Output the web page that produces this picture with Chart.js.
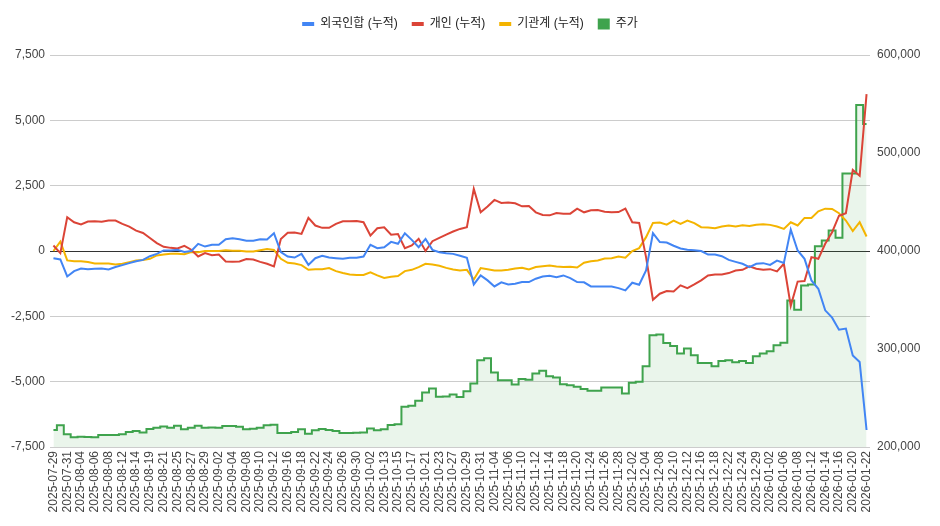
<!DOCTYPE html>
<html lang="ko">
<head>
<meta charset="utf-8">
<title>수급 누적 vs 주가</title>
<script src="https://cdn.jsdelivr.net/npm/chart.js@4"></script>
<style>
    html, body { margin: 0; padding: 0; background: #fff; }
    #wrap { width: 940px; height: 526px; }
</style>
</head>
<body>
<div id="wrap"><canvas id="flowChart" width="940" height="526"></canvas></div>
<script>
// --- data (단위: 억원 누적 / 원) ---
const dates = [
    "2025-07-29", "2025-07-30", "2025-07-31",
    "2025-08-01", "2025-08-04", "2025-08-05", "2025-08-06", "2025-08-07", "2025-08-08", "2025-08-11", "2025-08-12", "2025-08-13", "2025-08-14",
    "2025-08-18", "2025-08-19", "2025-08-20", "2025-08-21", "2025-08-22", "2025-08-25", "2025-08-26", "2025-08-27", "2025-08-28", "2025-08-29",
    "2025-09-01", "2025-09-02", "2025-09-03", "2025-09-04", "2025-09-05", "2025-09-08", "2025-09-09", "2025-09-10", "2025-09-11", "2025-09-12",
    "2025-09-15", "2025-09-16", "2025-09-17", "2025-09-18", "2025-09-19", "2025-09-22", "2025-09-23", "2025-09-24", "2025-09-25", "2025-09-26",
    "2025-09-29", "2025-09-30",
    "2025-10-01", "2025-10-02", "2025-10-10", "2025-10-13", "2025-10-14", "2025-10-15", "2025-10-16", "2025-10-17", "2025-10-20", "2025-10-21",
    "2025-10-22", "2025-10-23", "2025-10-24", "2025-10-27", "2025-10-28", "2025-10-29", "2025-10-30", "2025-10-31",
    "2025-11-03", "2025-11-04", "2025-11-05", "2025-11-06", "2025-11-07", "2025-11-10", "2025-11-11", "2025-11-12", "2025-11-13", "2025-11-14",
    "2025-11-17", "2025-11-18", "2025-11-19", "2025-11-20", "2025-11-21", "2025-11-24", "2025-11-25", "2025-11-26", "2025-11-27", "2025-11-28",
    "2025-12-01", "2025-12-02", "2025-12-03", "2025-12-04", "2025-12-05", "2025-12-08", "2025-12-09", "2025-12-10", "2025-12-11", "2025-12-12",
    "2025-12-15", "2025-12-16", "2025-12-17", "2025-12-18", "2025-12-19", "2025-12-22", "2025-12-23", "2025-12-24", "2025-12-26", "2025-12-29",
    "2025-12-30",
    "2026-01-02", "2026-01-05", "2026-01-06", "2026-01-07", "2026-01-08", "2026-01-09", "2026-01-12", "2026-01-13", "2026-01-14", "2026-01-15",
    "2026-01-16", "2026-01-19", "2026-01-20", "2026-01-21", "2026-01-22"
];

const foreignCum = [
    -275, -325, -975, -770, -670, -695, -680, -670, -705, -615,
    -540, -465, -390, -340, -200, -110, 20, 20, 45, -40,
    0, 275, 170, 235, 235, 450, 490, 450, 390, 390,
    450, 440, 680, -45, -210, -250, -110, -530, -275, -185,
    -250, -275, -300, -260, -260, -210, 235, 110, 145, 350,
    275, 680, 425, 145, 465, 45, -45, -85, -110, -185,
    -260, -1280, -935, -1125, -1355, -1200, -1280, -1255, -1190, -1190,
    -1060, -975, -950, -1000, -935, -1035, -1190, -1200, -1355, -1355,
    -1355, -1355, -1420, -1510, -1215, -1290, -745, 680, 340, 325,
    200, 95, 45, 30, 0, -135, -135, -200, -340, -415,
    -490, -615, -490, -465, -530, -365, -460, 820, 20, -300,
    -1125, -1445, -2270, -2550, -3010, -2970, -4000, -4250, -6850
];

const retailCum = [
    210, -80, 1290, 1100, 1020, 1125, 1140, 1120, 1165, 1165,
    1040, 935, 780, 690, 500, 300, 160, 120, 95, 198,
    50, -210, -80, -160, -135, -400, -415, -400, -310, -325,
    -415, -490, -590, 460, 695, 705, 655, 1265, 975, 885,
    885, 1040, 1140, 1140, 1150, 1100, 590, 870, 910, 620,
    650, 110, 210, 465, 0, 375, 500, 630, 745, 845,
    910, 2375, 1480, 1700, 1955, 1840, 1860, 1825, 1710, 1720,
    1480, 1380, 1365, 1455, 1430, 1430, 1620, 1480, 1560, 1570,
    1505, 1480, 1490, 1620, 1100, 1075, -235, -1865, -1635, -1535,
    -1550, -1315, -1420, -1280, -1125, -935, -895, -895, -845, -745,
    -720, -590, -680, -720, -695, -780, -490, -2100, -1170, -1150,
    -235, -300, 275, 720, 1350, 1445, 3100, 2880, 6000
];

const instCum = [
    0, 360, -360, -390, -390, -425, -475, -475, -475, -515,
    -490, -425, -360, -340, -300, -170, -135, -110, -110, -120,
    -40, -50, 0, 0, 0, 30, 10, 10, -20, -20,
    30, 80, 40, -300, -450, -475, -540, -720, -695, -695,
    -655, -770, -845, -895, -920, -920, -820, -935, -1035, -985,
    -960, -770, -720, -615, -490, -515, -565, -645, -705, -745,
    -720, -1090, -655, -695, -745, -750, -720, -670, -645, -705,
    -615, -580, -555, -590, -615, -600, -630, -450, -390, -360,
    -285, -275, -210, -260, 0, 110, 530, 1075, 1090, 1010,
    1165, 1040, 1165, 1065, 910, 895, 870, 935, 975, 935,
    985, 960, 1000, 1020, 1000, 935, 845, 1100, 975, 1265,
    1265, 1520, 1620, 1610, 1445, 1165, 760, 1100, 555
];

const price = [
    217300, 222100, 212900, 209900, 210500, 210200, 209900, 212200, 212200, 212200,
    212900, 215300, 216300, 214900, 218300, 219700, 221000, 219700, 221700, 218000,
    219700, 221700, 219700, 220000, 219700, 221400, 221400, 220700, 218000, 218700,
    219700, 222100, 222700, 214200, 214200, 215300, 218000, 213500, 217000, 218300,
    217300, 216300, 214200, 214200, 214600, 214900, 219000, 217000, 218000, 222400,
    223100, 241000, 242000, 247100, 255600, 259700, 251200, 251500, 253600, 251000,
    257000, 264800, 288500, 290600, 276000, 268200, 268200, 263800, 269500, 268500,
    275000, 277700, 272300, 270900, 264100, 263100, 261400, 259300, 257300, 257300,
    260800, 260800, 260800, 254600, 265500, 266500, 282400, 314000, 314700, 306200,
    303100, 295400, 300500, 293600, 285800, 285800, 282400, 287800, 288500, 286500,
    287800, 285800, 292600, 295400, 297700, 303800, 306500, 349600, 340100, 364900,
    365900, 404900, 410700, 420900, 413400, 479200, 479200, 549100, 529500
];

const seriesNames = ["외국인합 (누적)", "개인 (누적)", "기관계 (누적)", "주가"];
const leftTicks = { min: -7500, max: 7500, step: 2500 };
const rightTicks = { min: 200000, max: 600000, step: 100000 };

// --- style ---
const FONT = "Arial, 'Liberation Sans', 'Noto Sans CJK KR', sans-serif";
const colors = ['#4285F4', '#DB4437', '#F4B400', '#3FA34D'];

// extra space under the legend
const legendGap = {
    id: 'legendGap',
    beforeInit(chart) {
        const fit = chart.legend.fit;
        chart.legend.fit = function () {
            fit.bind(chart.legend)();
            this.height += 15;
        };
    }
};

function lineSet(label, data, color) {
    return {
        label: label,
        data: data,
        yAxisID: 'y',
        borderColor: color,
        backgroundColor: color,
        borderWidth: 2,
        pointRadius: 0,
        tension: 0,
        fill: false
    };
}

const ctx = document.getElementById('flowChart').getContext('2d');
new Chart(ctx, {
    type: 'line',
    data: {
        labels: dates,
        datasets: [
            lineSet(seriesNames[0], foreignCum, colors[0]),
            lineSet(seriesNames[1], retailCum, colors[1]),
            lineSet(seriesNames[2], instCum, colors[2]),
            {
                label: seriesNames[3],
                data: price,
                yAxisID: 'y1',
                borderColor: colors[3],
                backgroundColor: 'rgba(63,163,77,0.11)',
                borderWidth: 2,
                pointRadius: 0,
                stepped: 'middle',
                fill: 'start'
            }
        ]
    },
    options: {
        responsive: false,
        animation: false,
        layout: { padding: { top: 4, left: 0, right: 0, bottom: 0 } },
        plugins: {
            tooltip: { enabled: false },
            legend: {
                position: 'top',
                labels: {
                    usePointStyle: true,
                    pointStyleWidth: 12,
                    boxHeight: 11,
                    padding: 14,
                    color: '#222',
                    font: { family: FONT, size: 12 },
                    generateLabels(chart) {
                        const items = Chart.defaults.plugins.legend.labels.generateLabels(chart);
                        items.forEach((it, i) => {
                            it.fillStyle = colors[i];
                            it.strokeStyle = colors[i];
                            it.pointStyle = i < 3 ? 'line' : 'rect';
                            it.lineWidth = i < 3 ? 4 : 0;
                        });
                        return items;
                    }
                }
            }
        },
        scales: {
            x: {
                offset: true,
                grid: { display: false, drawTicks: false },
                border: { display: false },
                ticks: {
                    autoSkip: false,
                    minRotation: 90,
                    maxRotation: 90,
                    padding: 4,
                    color: '#444',
                    font: { family: FONT, size: 12 },
                    callback(value, index) {
                        return index % 2 === 0 ? this.getLabelForValue(value) : '';
                    }
                },
                afterFit(scale) { scale.height = 79; }
            },
            y: {
                position: 'left',
                min: leftTicks.min,
                max: leftTicks.max,
                border: { display: false },
                grid: {
                    drawTicks: false,
                    color: c => c.tick.value === 0 ? '#333' : '#ccc',
                    lineWidth: 1
                },
                ticks: {
                    stepSize: leftTicks.step,
                    padding: 5,
                    color: '#444',
                    font: { family: FONT, size: 12 },
                    callback: v => v.toLocaleString('en-US')
                },
                afterFit(scale) { scale.width = 50; }
            },
            y1: {
                position: 'right',
                min: rightTicks.min,
                max: rightTicks.max,
                border: { display: false },
                grid: { display: false, drawTicks: false },
                ticks: {
                    stepSize: rightTicks.step,
                    padding: 7,
                    color: '#444',
                    font: { family: FONT, size: 12 },
                    callback: v => v.toLocaleString('en-US')
                },
                afterFit(scale) { scale.width = 70; }
            }
        }
    },
    plugins: [legendGap]
});
</script>
</body>
</html>
